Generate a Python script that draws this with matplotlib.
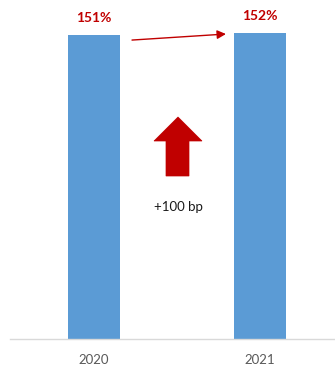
import matplotlib
matplotlib.use("Agg")
import matplotlib.pyplot as plt
from matplotlib.patches import Polygon

categories = ["2020", "2021"]
values = [151, 152]
labels = ["151%", "152%"]
change_text = "+100 bp"

plt.rcParams['font.family'] = ['Lato', 'DejaVu Sans']

W, H = 335, 369
fig = plt.figure(figsize=(W/100, H/100), dpi=100)
ax = fig.add_axes([10/W, 30/H, 325/W, 339/H])

x = list(range(len(categories)))
ax.bar(x, values, width=0.313, color="#5B9BD5")
ax.set_xlim(-0.506, 1.452)
ax.set_ylim(0, 168.4)

for xi, v, lab in zip(x, values, labels):
    ax.annotate(lab, (xi, v), xytext=(0, 12.2), textcoords="offset points",
                ha="center", va="center", color="#C00000", fontsize=10,
                fontweight="bold")

# thin trend arrow
ax.annotate("", xy=(0.795, values[1] - 0.5), xytext=(0.229, values[0] - 2.5),
            arrowprops=dict(arrowstyle="-|>", color="#C00000", lw=1.0,
                            mutation_scale=13, shrinkA=0, shrinkB=0))

# big up arrow (axes fraction)
def fx(px):
    return (px - 10) / 325
def fy(py):
    return (339 - py) / 339
pts = [(178, 117), (202, 141), (189, 141), (189, 176), (166, 176), (166, 141), (154, 141)]
poly = Polygon([(fx(a), fy(b)) for a, b in pts], closed=True, transform=ax.transAxes,
               facecolor="#C00000", edgecolor="#C00000", lw=0.5)
ax.add_patch(poly)
ax.text(fx(178), fy(207), change_text, transform=ax.transAxes, ha="center", va="center",
        fontsize=9.5, color="#1a1a1a")

ax.set_xticks(x)
ax.set_xticklabels(categories, fontsize=9.5, color="#595959")
ax.tick_params(axis="x", length=0, pad=11)
ax.set_yticks([])
for s in ["top", "right", "left"]:
    ax.spines[s].set_visible(False)
ax.spines["bottom"].set_color("#D9D9D9")
ax.spines["bottom"].set_linewidth(1.0)

fig.savefig("out.png", dpi=100)
